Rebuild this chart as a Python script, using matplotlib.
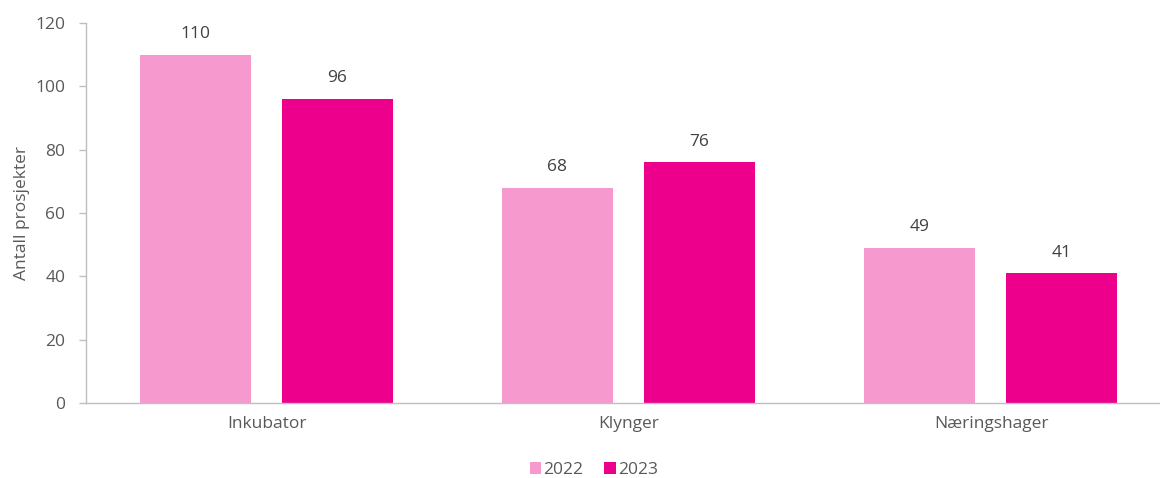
import matplotlib
matplotlib.use("Agg")
import matplotlib.pyplot as plt
import numpy as np

categories = ["Inkubator", "Klynger", "Næringshager"]
series_names = ["2022", "2023"]
values_2022 = [110, 68, 49]
values_2023 = [96, 76, 41]
yticks = [0, 20, 40, 60, 80, 100, 120]

plt.rcParams['font.family'] = ['Open Sans', 'DejaVu Sans']
txt = '#595959'
c22 = '#F599CF'
c23 = '#EC008C'
fs = 12.5

fig = plt.figure(figsize=(11.6, 4.78), dpi=100)
ax = fig.add_axes([86/1160, 1-403/478, 1-86/1160, (403-23)/478])

x = np.arange(len(categories))
w = 0.307
off = 0.196
b1 = ax.bar(x - off - 0.002, values_2022, w, color=c22, label=series_names[0])
b2 = ax.bar(x + off - 0.002, values_2023, w, color=c23, label=series_names[1])
for bars, vals in ((b1, values_2022), (b2, values_2023)):
    for r, v in zip(bars, vals):
        ax.annotate(str(v), (r.get_x() + r.get_width()/2, v), xytext=(0, 9),
                    textcoords='offset points', ha='center', va='bottom',
                    fontsize=fs, color='#404040')

ax.set_xlim(-0.5, -0.5 + 1074/362)
ax.set_ylim(0, 120)
ax.set_yticks(yticks)
ax.set_xticks(x)
ax.set_xticklabels(categories)
ax.tick_params(axis='x', length=0, pad=9, labelsize=fs, labelcolor=txt)
ax.tick_params(axis='y', length=5, width=1, color='#bfbfbf', pad=10, labelsize=fs, labelcolor=txt)
for s in ['top', 'right']:
    ax.spines[s].set_visible(False)
for s in ['left', 'bottom']:
    ax.spines[s].set_color('#bfbfbf')
    ax.spines[s].set_linewidth(1)
ax.set_ylabel('Antall prosjekter', fontsize=fs, color=txt, labelpad=4)

leg = fig.legend(handles=[b1, b2], labels=series_names, loc='center',
                 bbox_to_anchor=(594/1160, 1-470/478), ncol=2, frameon=False,
                 fontsize=fs, handlelength=0.65, handleheight=0.65, handletextpad=0.15,
                 columnspacing=1.2, labelcolor=txt)

fig.savefig('out.png', dpi=100)
